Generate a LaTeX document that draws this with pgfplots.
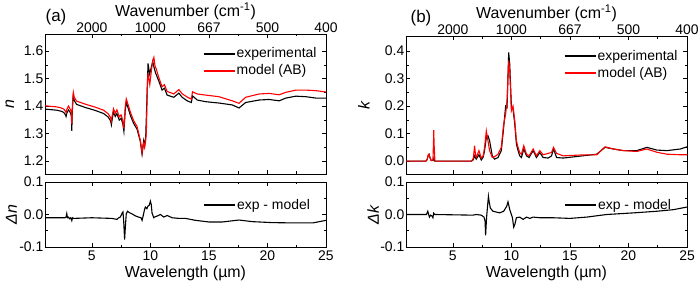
\documentclass[border=0pt]{standalone}
\usepackage{pgfplots}
\pgfplotsset{compat=1.18}
\usepackage{fontspec}
\setmainfont{Liberation Sans}

\pgfplotstableread{
x y
1.0 1.389
1.5 1.387
2.0 1.385
2.4 1.381
2.6 1.377
2.75 1.368
2.8 1.362
2.87 1.375
3.0 1.386
3.1 1.381
3.2 1.372
3.26 1.360
3.29 1.310
3.32 1.365
3.38 1.420
3.42 1.438
3.5 1.420
3.7 1.406
4.5 1.394
5.3 1.384
6.0 1.373
6.4 1.360
6.6 1.346
6.67 1.332
6.75 1.355
6.85 1.378
7.0 1.362
7.14 1.373
7.34 1.349
7.5 1.356
7.65 1.335
7.74 1.308
7.85 1.383
7.94 1.413
8.1 1.393
8.3 1.365
8.57 1.337
8.86 1.316
9.14 1.272
9.29 1.225
9.35 1.243
9.43 1.274
9.51 1.256
9.6 1.286
9.7 1.419
9.8 1.555
9.87 1.535
9.94 1.516
10.09 1.543
10.2 1.562
10.31 1.541
10.43 1.522
10.71 1.492
11.0 1.458
11.2 1.465
11.43 1.440
11.71 1.436
12.0 1.432
12.43 1.447
12.71 1.432
13.14 1.419
13.5 1.413
13.6 1.437
14.0 1.422
14.7 1.416
15.86 1.411
17.0 1.404
17.57 1.393
18.14 1.413
19.3 1.422
20.14 1.424
21.0 1.419
21.57 1.429
22.43 1.436
23.29 1.434
24.14 1.429
25.0 1.429
}\nexp

\pgfplotstableread{
x y
1.0 1.401
1.5 1.399
2.0 1.397
2.4 1.393
2.6 1.389
2.75 1.381
2.8 1.376
2.87 1.388
3.0 1.400
3.1 1.393
3.2 1.385
3.26 1.372
3.29 1.335
3.32 1.380
3.38 1.435
3.42 1.450
3.5 1.432
3.7 1.418
4.5 1.406
5.3 1.396
6.0 1.385
6.4 1.372
6.6 1.358
6.67 1.345
6.75 1.368
6.85 1.390
7.0 1.374
7.14 1.386
7.34 1.361
7.5 1.368
7.65 1.347
7.74 1.318
7.85 1.396
7.94 1.426
8.1 1.405
8.3 1.377
8.57 1.347
8.86 1.326
9.14 1.276
9.29 1.231
9.35 1.255
9.43 1.266
9.51 1.250
9.6 1.275
9.66 1.31
9.74 1.47
9.8 1.52
9.87 1.50
9.95 1.478
10.09 1.53
10.2 1.565
10.3 1.577
10.4 1.545
10.5 1.535
10.71 1.505
11.0 1.470
11.2 1.478
11.43 1.453
11.71 1.449
12.0 1.444
12.43 1.460
12.71 1.445
13.14 1.433
13.5 1.425
13.6 1.452
14.0 1.444
14.7 1.440
15.86 1.434
17.0 1.419
17.57 1.410
18.14 1.432
19.3 1.444
20.14 1.446
21.0 1.441
21.57 1.450
22.43 1.458
23.29 1.458
24.14 1.456
25.0 1.451
}\nmod

\pgfplotstableread{
x y
1.0 -0.010
2.7 -0.010
2.8 -0.008
2.86 0.003
2.92 -0.010
3.0 -0.008
3.1 -0.013
3.2 -0.010
3.29 -0.019
3.35 -0.010
3.45 -0.012
5.0 -0.010
6.71 -0.012
7.0 -0.014
7.14 -0.015
7.3 -0.010
7.43 -0.008
7.6 0.005
7.66 0.008
7.72 -0.020
7.8 -0.077
7.86 -0.040
7.94 0.002
8.05 0.010
8.2 0.006
8.43 0.002
8.7 -0.004
9.0 -0.008
9.2 -0.010
9.29 -0.018
9.38 -0.005
9.5 0.015
9.57 0.023
9.7 0.018
9.8 0.026
9.9 0.028
10.0 0.041
10.08 0.030
10.14 0.005
10.29 -0.010
10.45 -0.006
10.57 -0.005
10.86 0.000
11.14 -0.008
11.43 -0.003
11.86 -0.010
12.43 -0.012
13.0 -0.012
13.86 -0.018
15.0 -0.023
16.14 -0.023
17.57 -0.017
18.71 -0.022
20.43 -0.025
22.43 -0.026
23.86 -0.026
25.0 -0.018
}\dn

\pgfplotstableread{
x y
1.0 0
2.7 0
2.8 0.005
2.9 0.022
2.97 0.025
3.05 0.012
3.15 0.002
3.3 0.003
3.37 0.01
3.45 0
6.6 0
6.75 0.005
6.86 0.019
7.0 0.007
7.23 0.023
7.43 0.004
7.6 0.015
7.71 0.038
7.86 0.086
8.0 0.092
8.14 0.074
8.37 0.019
8.57 0.007
8.86 0.013
9.14 0.038
9.34 0.122
9.51 0.200
9.63 0.195
9.77 0.395
9.86 0.353
10.0 0.200
10.14 0.189
10.29 0.135
10.43 0.062
10.57 0.038
10.71 0.019
10.86 0.013
11.06 0.044
11.29 0.019
11.51 0.013
11.86 0.038
12.14 0.013
12.43 0.031
12.71 0.013
13.14 0.011
13.43 0.019
13.6 0.044
13.86 0.013
14.43 0.011
15.86 0.018
17.29 0.025
18.0 0.050
18.71 0.044
19.57 0.038
20.71 0.038
21.57 0.050
22.43 0.040
23.29 0.038
24.43 0.044
25.0 0.052
}\kexp

\pgfplotstableread{
x y
1.0 0
2.7 0
2.8 0.005
2.9 0.022
2.97 0.025
3.05 0.012
3.15 0.002
3.3 0.004
3.35 0.07
3.37 0.113
3.40 0.06
3.47 0
6.6 0
6.75 0.01
6.86 0.056
6.94 0.02
7.0 0.013
7.23 0.038
7.43 0.011
7.6 0.02
7.71 0.050
7.86 0.110
8.0 0.074
8.14 0.038
8.37 0.013
8.57 0.016
8.86 0.025
9.14 0.050
9.34 0.135
9.51 0.171
9.63 0.219
9.77 0.365
9.86 0.328
10.0 0.183
10.14 0.200
10.29 0.147
10.43 0.074
10.57 0.050
10.71 0.031
10.86 0.025
11.06 0.056
11.29 0.025
11.51 0.019
11.86 0.044
12.14 0.019
12.43 0.038
12.71 0.023
13.14 0.028
13.43 0.031
13.6 0.050
13.86 0.028
14.43 0.019
15.86 0.022
17.29 0.023
18.0 0.052
18.71 0.044
19.57 0.038
20.71 0.035
21.57 0.044
22.43 0.032
23.29 0.025
24.43 0.023
25.0 0.023
}\kmod

\pgfplotstableread{
x y
1.0 0.000
2.75 0.000
2.86 0.010
2.95 -0.002
3.0 -0.008
3.1 -0.002
3.2 -0.004
3.3 -0.010
3.36 0.004
3.45 0.000
6.71 -0.002
7.0 0.000
7.43 -0.002
7.66 -0.008
7.75 -0.020
7.8 -0.064
7.88 -0.010
7.94 0.015
8.04 0.056
8.1 0.040
8.2 0.020
8.43 0.010
9.0 0.005
9.34 0.010
9.51 0.020
9.6 0.025
9.71 0.039
9.8 0.025
9.86 0.015
10.0 0.000
10.09 -0.010
10.2 -0.039
10.3 -0.030
10.43 -0.010
10.71 -0.008
11.0 -0.015
11.29 -0.008
11.57 -0.012
11.86 -0.008
12.43 -0.010
13.57 -0.010
15.0 -0.012
16.43 -0.008
18.14 0.000
20.43 0.005
22.43 0.010
23.86 0.015
25.0 0.023
}\dk

\pgfplotsset{
  base/.style={
    scale only axis, width=281bp,
    xmin=1, xmax=25,
    xtick={5,10,15,20,25},
    minor x tick num=1,
    minor y tick num=1,
    xtick pos=both, ytick pos=both,
    tick align=inside,
    major tick length=4bp, minor tick length=2.5bp,
    tick style={black, line width=0.6bp},
    axis line style={line width=0.8bp},
    every axis plot/.append style={line width=1.1bp},
    tick label style={font=\fontsize{14}{14}\selectfont},
    yticklabel style={inner sep=1.5bp},
    label style={font=\fontsize{16}{16}\selectfont},
    legend cell align=left,
    legend style={draw=none, fill=none, inner sep=0bp, outer sep=0bp,
      font=\fontsize{14}{14}\selectfont, at={(1,1)}, anchor=north east,
      nodes={inner sep=1.5bp, text height=11bp, text depth=3bp}},
    legend image code/.code={\draw[#1, line width=1.1bp] (0bp,0bp) -- (31bp,0bp);},
  },
  upper/.style={base,
    xticklabel pos=right,
    xticklabels={2000,1000,667,500,400},
    xticklabel style={inner sep=1.5bp},
    xlabel={Wavenumber (cm\textsuperscript{-1})},
    xlabel style={at={(axis description cs:0.5,1.164)}, anchor=center},
    legend style={xshift=-8bp, yshift=-11.5bp},
  },
  lower/.style={base,
    height=65bp, ymin=-0.1, ymax=0.1,
    ytick={-0.1,0,0.1}, yticklabels={-0.1,0.0,0.1},
    xticklabels={5,10,15,20,25},
    xlabel={Wavelength (µm)},
    xlabel style={at={(axis description cs:0.5,-0.40)}, anchor=center},
    legend style={xshift=-14.5bp, yshift=-14.5bp},
  },
}

\begin{document}
\begin{tikzpicture}
\useasboundingbox (0,0) rectangle (700bp,284bp);

% (a) upper
\begin{axis}[upper, at={(45bp,110bp)}, anchor=south west, height=140bp,
  ymin=1.153, ymax=1.662,
  ytick={1.2,1.3,1.4,1.5,1.6}, yticklabels={1.2,1.3,1.4,1.5,1.6},
  ylabel={\textit{n}},
  ylabel style={at={(axis description cs:-0.125,0.5)}, anchor=center}]
\addplot[black] table[x=x,y=y] {\nexp};
\addplot[red] table[x=x,y=y] {\nmod};
\legend{experimental, model (AB)}
\end{axis}

% (a) lower
\begin{axis}[lower, at={(45bp,37bp)}, anchor=south west,
  ylabel={\textit{Δn}},
  ylabel style={at={(axis description cs:-0.12,0.5)}, anchor=center}]
\addplot[black] table[x=x,y=y] {\dn};
\legend{exp - model}
\end{axis}

% (b) upper
\begin{axis}[upper, at={(406bp,110bp)}, anchor=south west, height=138bp,
  ymin=-0.047, ymax=0.455,
  ytick={0,0.1,0.2,0.3,0.4}, yticklabels={0.0,0.1,0.2,0.3,0.4},
  ylabel={\textit{k}},
  ylabel style={at={(axis description cs:-0.15,0.5)}, anchor=center}]
\addplot[black] table[x=x,y=y] {\kexp};
\addplot[red] table[x=x,y=y] {\kmod};
\legend{experimental, model (AB)}
\end{axis}

% (b) lower
\begin{axis}[lower, at={(406bp,37bp)}, anchor=south west,
  ylabel={\textit{Δk}},
  ylabel style={at={(axis description cs:-0.117,0.5)}, anchor=center}]
\addplot[black] table[x=x,y=y] {\dk};
\legend{exp - model}
\end{axis}

\node[font=\fontsize{17}{17}\selectfont] at (56bp,267bp) {(a)};
\node[font=\fontsize{17}{17}\selectfont] at (421bp,266bp) {(b)};
\end{tikzpicture}
\end{document}
